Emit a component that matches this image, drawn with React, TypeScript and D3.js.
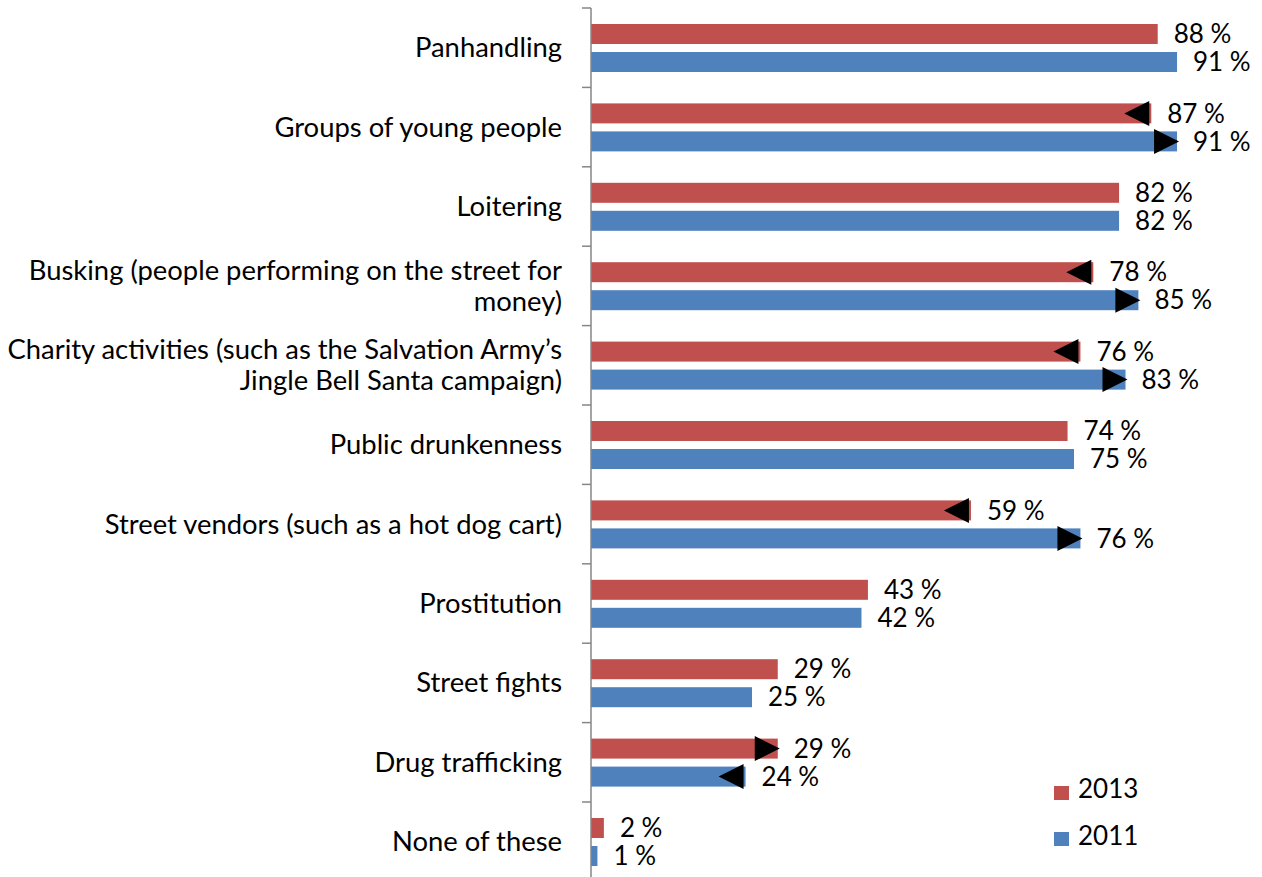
import React from "react";
import * as d3 from "d3";

const categories: string[][] = [
  ["Panhandling"],
  ["Groups of young people"],
  ["Loitering"],
  ["Busking (people performing on the street for", "money)"],
  ["Charity activities (such as the Salvation Army\u2019s", "Jingle Bell Santa campaign)"],
  ["Public drunkenness"],
  ["Street vendors (such as a hot dog cart)"],
  ["Prostitution"],
  ["Street fights"],
  ["Drug trafficking"],
  ["None of these"],
];
const values2013 = [88, 87, 82, 78, 76, 74, 59, 43, 29, 29, 2];
const values2011 = [91, 91, 82, 85, 83, 75, 76, 42, 25, 24, 1];
const arrows2013 = ["", "left", "", "left", "left", "", "left", "", "", "right", ""];
const arrows2011 = ["", "right", "", "right", "right", "", "right", "", "", "left", ""];
const seriesNames = ["2013", "2011"];

const W = 1262;
const H = 877;
const x0 = 591;
const FONT = "Lato, sans-serif";
const FS = 26;
const FSC = 27.4;
const RED = "#C0504D";
const BLUE = "#4F81BD";

export default function App() {
  const x = d3.scaleLinear().domain([0, 100]).range([x0, x0 + 644]);
  const y = d3
    .scaleBand<number>()
    .domain(d3.range(categories.length))
    .range([8, 8 + 79.4 * categories.length]);
  const barH = 20;

  const arrow = (dir: string, xe: number, yc: number, key: string) => {
    if (!dir) return null;
    const s = 12.5;
    let pts: [number, number][];
    if (dir === "left") {
      const base = xe - 2;
      pts = [[base, yc - s], [base, yc + s], [base - 25, yc]];
    } else {
      const tip = xe + 2;
      pts = [[tip - 25, yc - s], [tip - 25, yc + s], [tip, yc]];
    }
    return <polygon key={key} points={pts.map((p) => p.join(",")).join(" ")} fill="#000" />;
  };

  return (
    <svg width={W} height={H} style={{ position: "absolute", left: 0, top: 0, background: "#fff" }}>
      {categories.map((lines, i) => {
        const b = y(i)!;
        const xr = x(values2013[i]);
        const xb = x(values2011[i]);
        const cy = b + y.bandwidth() / 2;
        return (
          <g key={i}>
            <rect x={x0} y={b + 16} width={xr - x0} height={barH} fill={RED} />
            <rect x={x0} y={b + 44} width={xb - x0} height={barH} fill={BLUE} />
            {arrow(arrows2013[i], xr, b + 16 + barH / 2, "a13")}
            {arrow(arrows2011[i], xb, b + 44 + barH / 2, "a11")}
            <text x={xr + 16} y={b + 26} dy="0.35em" fontFamily={FONT} fontSize={FS} fill="#000">
              {values2013[i]} %
            </text>
            <text x={xb + 16} y={b + 54} dy="0.35em" fontFamily={FONT} fontSize={FS} fill="#000">
              {values2011[i]} %
            </text>
            {lines.map((l, j) => (
              <text
                key={j}
                x={562}
                y={cy + (j - (lines.length - 1) / 2) * 31}
                dy="0.35em"
                textAnchor="end"
                fontFamily={FONT}
                fontSize={FSC}
                fill="#000"
              >
                {l}
              </text>
            ))}
          </g>
        );
      })}
      {categories.map((_, i) => (
        <line key={"t" + i} x1={582} x2={x0} y1={y(i)!} y2={y(i)!} stroke="#868686" strokeWidth={1.5} />
      ))}
      <line x1={x0} x2={x0} y1={8} y2={H} stroke="#868686" strokeWidth={1.5} />
      {seriesNames.map((n, i) => (
        <g key={n}>
          <rect x={1054} y={786 + i * 46} width={15} height={14} fill={i === 0 ? RED : BLUE} />
          <text x={1078} y={789 + i * 47} dy="0.35em" fontFamily={FONT} fontSize={FS} fill="#000">
            {n}
          </text>
        </g>
      ))}
    </svg>
  );
}
